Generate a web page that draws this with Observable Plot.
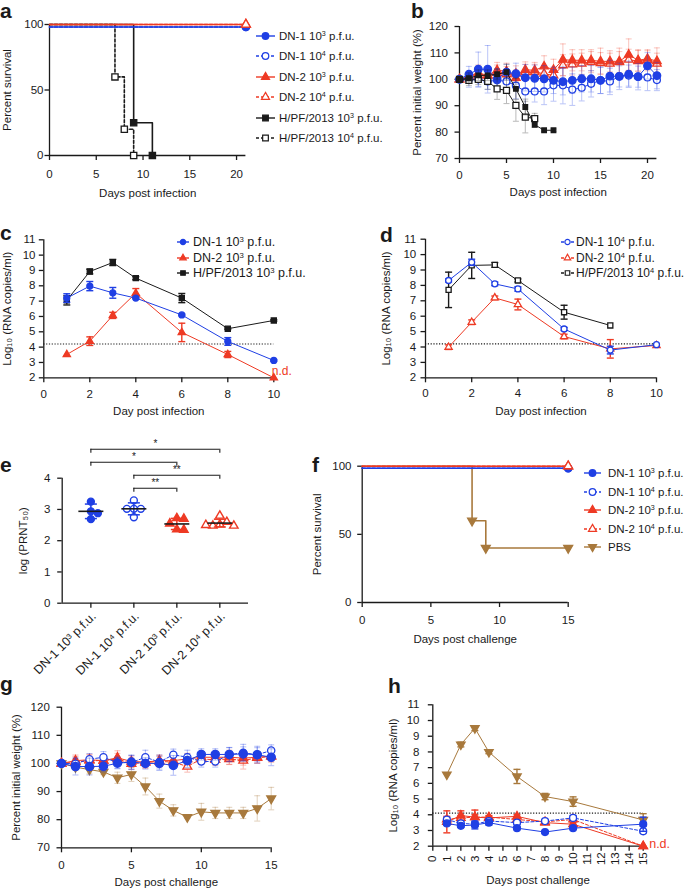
<!DOCTYPE html>
<html>
<head>
<meta charset="utf-8">
<script src="https://cdn.jsdelivr.net/npm/d3@7"></script>
<script src="https://cdn.jsdelivr.net/npm/@observablehq/plot@0.6"></script>
<style>
html,body{margin:0;padding:0;background:#fff;overflow:hidden;}
#root{position:relative;width:685px;height:890px;overflow:hidden;font-family:"Liberation Sans",Arial,Helvetica,sans-serif;color:#1a1a1a;}
#root > svg{position:absolute;left:0;top:0;}
.letter{position:absolute;font-weight:bold;font-size:21px;line-height:21px;}
.lrow{position:absolute;height:16px;line-height:16px;display:flex;align-items:center;white-space:nowrap;}
.lrow svg{flex:none;overflow:visible;}
sup{font-size:0.62em;line-height:0;vertical-align:0.55em;}
</style>
</head>
<body><div id="root"></div>
<script>
// ================= DATA =================
// ---- a: survival after infection ----
const aDaysDN = [0, 21];
const aSurvDN1_3 = [100, 100];
const aSurvDN1_4 = [100, 100];
const aSurvDN2_3 = [100, 100];
const aSurvDN2_4 = [100, 100];
const aDaysH_3 = [0, 9, 11];
const aSurvH_3 = [100, 25, 0];
const aDaysH_4 = [0, 7, 8, 9];
const aSurvH_4 = [100, 60, 20, 0];
const aLegend = ["DN-1 10^3 p.f.u.", "DN-1 10^4 p.f.u.", "DN-2 10^3 p.f.u.", "DN-2 10^4 p.f.u.", "H/PF/2013 10^3 p.f.u.", "H/PF/2013 10^4 p.f.u."];
const aTicksX = [0, 5, 10, 15, 20];
const aTicksY = [0, 50, 100];

// ---- b: weight after infection ----
const bDays = [0,1,2,3,4,5,6,7,8,9,10,11,12,13,14,15,16,17,18,19,20,21];
const bDN1_3 = [100,101.9,103.8,103.8,100.1,102.7,102.1,100.6,100.4,100.2,99.6,99.1,99.6,100.2,100.2,99.6,101.2,101.1,101.9,101,105.1,101.4];
const bDN1_3sd = [0,3,6.5,9,4,3,4,5,5,5,5,5,5,5,5,5,6,5,5,5,5,5];
const bDN1_4 = [100,100,100,99.2,99.6,99.2,97.6,95.4,95.4,95.4,97.7,97.7,96.1,96.8,98.3,99.6,99.2,101.1,101.4,101,100.7,99.7];
const bDN1_4sd = [0,3,3,3,4,4,5,5,4,5,6,7,6,5,5,5,5,4,4,4,5,4];
const bDN2_3 = [100,101.1,102.4,101.5,103.4,103.1,100.5,103.6,103.4,104.9,103.6,107.4,107.2,107.2,107.2,106.8,106.8,106.8,109.3,107.2,107.8,106.9];
const bDN2_3sd = [0,2,3,3,3,3,3,3,3,4,4,6,4,4,4,5,4,5,6,4,3,5];
const bDN2_4 = [100,100.9,101.5,101.5,102.4,101.9,102.1,102.7,102.7,102.1,101.5,105.3,105.6,105.9,106.5,106.1,105.9,106.5,107.4,106.9,107.2,105.9];
const bDN2_4sd = [0,2,2,3,3,3,3,3,3,3,3,4,4,4,4,4,4,4,4,4,4,4];
const bDaysH_3 = [0,1,2,3,4,5,6,7,8,9,10];
const bH_3 = [100,100.4,101.5,101.5,101.9,102.7,96.4,89.5,82.8,80.7,80.7];
const bH_3sd = [0,2,2,2,2,3,4,3,1,0.5,0.5];
const bDaysH_4 = [0,1,2,3,4,5,6,7,8];
const bH_4 = [100,99.6,100,99.2,96.4,95.8,90.1,85.7,85.1];
const bH_4sd = [0,2,2,3,4,5,6,6,2];
const bTicksY = [70, 80, 90, 100, 110, 120];

// ---- c / d: viremia after infection ----
const cdDays = [1, 2, 3, 4, 6, 8, 10];
const cdTicksX = [0, 2, 4, 6, 8, 10];
const logTicksY = [2, 3, 4, 5, 6, 7, 8, 9, 10, 11];
const LOD_cd = 4.2;
const cDN1_3 = [7.2, 7.98, 7.54, 7.2, 6.1, 4.37, 3.13];
const cDN1_3sd = [0.28, 0.3, 0.35, 0.05, 0.05, 0.25, 0.05];
const cDN2_3 = [3.52, 4.39, 6.07, 7.52, 4.96, 3.52, 2.0];
const cDN2_3sd = [0, 0.28, 0.2, 0.3, 0.6, 0.2, 0];
const cH_3 = [7.05, 8.93, 9.52, 8.5, 7.2, 5.2, 5.74];
const cH_3sd = [0.3, 0.15, 0.2, 0.1, 0.3, 0.05, 0.05];
const cLegend = ["DN-1 10^3 p.f.u.", "DN-2 10^3 p.f.u.", "H/PF/2013 10^3 p.f.u."];
const dDN1_4 = [8.32, 9.5, 8.1, 7.77, 5.17, 3.8, 4.15];
const dDN1_4sd = [0.1, 0.2, 0.12, 0.15, 0.1, 0.25, 0];
const dDN2_4 = [3.99, 5.61, 7.19, 6.76, 4.68, 3.88, 4.1];
const dDN2_4sd = [0.15, 0.15, 0.12, 0.35, 0.15, 0.6, 0];
const dDaysH_4 = [1, 2, 3, 4, 6, 8];
const dH_4 = [7.71, 9.3, 9.33, 8.32, 6.26, 5.4];
const dH_4sd = [1.15, 0.85, 0.15, 0.1, 0.45, 0];
const dLegend = ["DN-1 10^4 p.f.u.", "DN-2 10^4 p.f.u.", "H/PF/2013 10^4 p.f.u."];

// ---- e: neutralizing titres ----
const eGroups = ["DN-1 10^3 p.f.u.", "DN-1 10^4 p.f.u.", "DN-2 10^3 p.f.u.", "DN-2 10^4 p.f.u."];
const eDN1_3 = [3.25, 2.94, 2.88, 2.69];
const eDN1_4 = [3.29, 3.02, 3.02, 3.02, 2.75];
const eDN2_3 = [2.72, 2.7, 2.55, 2.36, 2.35];
const eDN2_4 = [2.8, 2.6, 2.52, 2.48, 2.48, 2.5];
const eCompFrom = [0, 0, 1, 1];
const eCompTo = [3, 2, 3, 2];
const eCompLabel = ["*", "*", "**", "**"];
const eTicksY = [0, 1, 2, 3, 4];

// ---- f: survival after challenge ----
const fDaysDN = [0, 15];
const fSurvDN1_3 = [100, 100];
const fSurvDN1_4 = [100, 100];
const fSurvDN2_3 = [100, 100];
const fSurvDN2_4 = [100, 100];
const fDaysPBS = [0, 8, 9, 15];
const fSurvPBS = [100, 60, 40, 40];
const fLegend = ["DN-1 10^3 p.f.u.", "DN-1 10^4 p.f.u.", "DN-2 10^3 p.f.u.", "DN-2 10^4 p.f.u.", "PBS"];
const fgTicksX = [0, 5, 10, 15];

// ---- g: weight after challenge ----
const gDays = [0,1,2,3,4,5,6,7,8,9,10,11,12,13,14,15];
const gPBS = [100,98.7,97.8,97,94.9,96.1,91.8,86.6,83.3,80.9,82.8,82.4,82.4,82.4,84,87.5];
const gPBSsd = [0,1,1.5,1,2,2.5,3,2.5,2,0.5,3,2,2,2,4.5,4];
const gDN1_3 = [100,98.9,98.9,99,100.1,100.5,100,100,99.3,101,103.2,103.2,103.2,103.4,103.1,102.2];
const gDN1_3sd = [0,3,3,2,2,2.5,2,2.5,3.5,2.5,2,2,2.5,2.5,2.5,3];
const gDN1_4 = [100,99.9,101.5,102.2,100.3,100.3,102.2,100.5,103.1,102.2,100.7,100.7,103.1,103.8,103.1,104.6];
const gDN1_4sd = [0,2,2,2,2,2.5,2.5,2.5,2,2.5,2,2,2.5,3,3,2];
const gDN2_3 = [100,101,101.3,101,102,100.7,100.5,101,101,101.6,102.2,102.2,102.2,101.9,102.2,102.6];
const gDN2_3sd = [0,2,2,2,2.5,2,2,2,2,2,2,2,2.5,2.5,2,2];
const gDN2_4 = [100,100.5,101,101,101.6,99.9,100.3,100.7,100.5,98.9,101.6,101.3,101.6,101,102,102.5];
const gDN2_4sd = [0,2,2,2,2,2,2,2,2,2,2,2,2,3,2,2];

// ---- h: viremia after challenge ----
const hDays = [1, 2, 3, 4, 6, 8, 10, 15];
const hTicksX = [0,1,2,3,4,5,6,7,8,9,10,11,12,13,14,15];
const LOD_h = 4.1;
const hPBS = [6.56, 8.47, 9.51, 7.99, 6.44, 5.16, 4.84, 3.67];
const hPBSsd = [0, 0.15, 0.15, 0.1, 0.45, 0.2, 0.3, 0.4];
const hDN1_3 = [3.45, 3.3, 3.35, 3.5, 3.15, 2.9, 3.15, 3.4];
const hDN1_3sd = [0.12, 0.1, 0.25, 0.15, 0.08, 0.05, 0.05, 0.45];
const hDN1_4 = [3.7, 3.45, 3.4, 3.6, 3.5, 3.6, 3.8, 2.95];
const hDN1_4sd = [0.1, 0.15, 0.15, 0.1, 0.1, 0.1, 0.15, 0.1];
const hDN2_3 = [3.55, 3.95, 3.85, 3.8, 3.9, 3.5, 3.4, 2.0];
const hDN2_3sd = [0.7, 0.3, 0.45, 0.1, 0.1, 0.1, 0.1, 0];
const hDN2_4 = [3.7, 3.8, 3.85, 3.85, 3.7, 3.55, 3.7, 2.0];
const hDN2_4sd = [0.2, 0.15, 0.15, 0.1, 0.1, 0.1, 0.1, 0];

// ================= STYLE =================
const W = 685, H = 890;
const FONT = '"Liberation Sans", Arial, Helvetica, sans-serif';
const BLUE = "#1f3fe4", RED = "#ee3a24", BROWN = "#a8793c", INK = "#1a1a1a";
const AXW = 1.3;
const FS = 11.5;
const root = document.getElementById("root");

const capSym = {draw(c, s) { const w = Math.sqrt(s / Math.PI); c.moveTo(-w, 0); c.lineTo(w, 0); }};
const triDown = {draw(c, s) {
  const y = Math.sqrt(s / (Math.sqrt(3) * 3));
  c.moveTo(0, 2 * y); c.lineTo(Math.sqrt(3) * y, -y); c.lineTo(-Math.sqrt(3) * y, -y); c.closePath();
}};
const S = {
  DN1_3: {color: BLUE, symbol: "circle", fill: BLUE, r: 3.3},
  DN1_4: {color: BLUE, symbol: "circle", fill: "white", dash: "3,2", r: 3.3},
  DN2_3: {color: RED, symbol: "triangle", fill: RED, r: 3},
  DN2_4: {color: RED, symbol: "triangle", fill: "white", dash: "3,2", r: 3},
  H_3: {color: INK, symbol: "square", fill: INK, r: 3.2},
  H_4: {color: INK, symbol: "square", fill: "white", dash: "3,2", r: 3.2},
  PBS: {color: BROWN, symbol: triDown, fill: BROWN, r: 3}
};
const sup = s => s.replace(/\^(\d)/g, "<sup>$1</sup>");
const uni = s => s.replace(/\^3/g, "\u00B3").replace(/\^4/g, "\u2074");
const intFmt = d => String(d);

// ================= HELPERS =================
function series(xs, ys, es, st, o = {}) {
  const data = xs.map((x, i) => ({x, y: ys[i], e: es ? es[i] : 0}));
  const eb = data.filter(d => d.e > 0);
  const eo = o.errOpacity ?? 1, ew = o.errWidth ?? 1, cap = o.cap ?? 3.5;
  const r = st.r * (o.rScale ?? 1);
  const err = {stroke: st.color, strokeOpacity: eo, strokeWidth: ew, fill: "none"};
  return [
    Plot.ruleX(eb, {x: "x", y1: d => d.y - d.e, y2: d => d.y + d.e, ...err}),
    Plot.dot(eb, {x: "x", y: d => d.y + d.e, symbol: capSym, r: cap, ...err}),
    Plot.dot(eb, {x: "x", y: d => d.y - d.e, symbol: capSym, r: cap, ...err}),
    Plot.line(data, {x: "x", y: "y", stroke: st.color, strokeWidth: o.lw ?? 1, strokeDasharray: (o.dashed && st.dash) ? st.dash : undefined}),
    Plot.dot(data, {x: "x", y: "y", symbol: st.symbol, r, fill: st.fill, stroke: st.color, strokeWidth: 1.3})
  ];
}
function surv(xs, ys, st, dy = 0) {
  const data = xs.map((x, i) => ({x, y: ys[i]}));
  return [
    Plot.line(data, {x: "x", y: "y", curve: "step-after", stroke: st.color, strokeWidth: 1.6, strokeDasharray: st.dash, dy}),
    Plot.dot(data.slice(1), {x: "x", y: "y", symbol: st.symbol, r: st.r * 1.1, fill: st.fill, stroke: st.color, strokeWidth: 1.3, dy})
  ];
}
function axes(o) {
  const m = [
    Plot.ruleX([o.xd[0]], {stroke: INK, strokeWidth: AXW}),
    Plot.ruleY([o.yd[0]], {stroke: INK, strokeWidth: AXW}),
    Plot.axisY({ticks: o.yt, tickSize: 4.5, tickPadding: o.yp, label: o.yl ?? null, labelAnchor: "center",
      labelOffset: o.ylo, labelArrow: "none", stroke: INK, strokeWidth: AXW, fill: INK, fontSize: FS, tickFormat: intFmt})
  ];
  m.push(Plot.axisX({ticks: o.xt, tickSize: 5, tickPadding: o.xp ?? 8, label: o.xl ?? null, labelAnchor: "center",
    labelOffset: o.xlo, labelArrow: "none", stroke: INK, strokeWidth: AXW, fill: INK, fontSize: FS,
    tickFormat: o.noXLabels ? () => "" : intFmt}));
  return m;
}
function draw(o, marks) {
  const svg = Plot.plot({
    width: W, height: H,
    marginLeft: o.xr[0], marginRight: W - o.xr[1], marginTop: o.yr[1], marginBottom: H - o.yr[0],
    x: {type: "linear", domain: o.xd}, y: {type: "linear", domain: o.yd},
    style: {background: "transparent", fontFamily: FONT, fontSize: FS + "px", color: INK},
    marks: [...axes(o), ...marks]
  });
  root.appendChild(svg);
}
const symType = s => typeof s === "string" ? ({circle: d3.symbolCircle, triangle: d3.symbolTriangle, square: d3.symbolSquare})[s] : s;
function legendSymbol(st, sw, gap, rs) {
  const NS = "http://www.w3.org/2000/svg";
  const svg = document.createElementNS(NS, "svg");
  svg.setAttribute("width", sw + gap); svg.setAttribute("height", 16);
  const ln = document.createElementNS(NS, "line");
  ln.setAttribute("x1", 0); ln.setAttribute("x2", sw); ln.setAttribute("y1", 8); ln.setAttribute("y2", 8);
  ln.setAttribute("stroke", st.color); ln.setAttribute("stroke-width", 1.4);
  if (st.dash) ln.setAttribute("stroke-dasharray", "3,2");
  const p = document.createElementNS(NS, "path");
  const r = st.r * rs;
  p.setAttribute("d", d3.symbol(symType(st.symbol), r * r * Math.PI)());
  p.setAttribute("transform", `translate(${sw / 2},8)`);
  p.setAttribute("fill", st.fill); p.setAttribute("stroke", st.color); p.setAttribute("stroke-width", 1.2);
  svg.append(ln, p);
  return svg;
}
function legend(keys, names, o) {
  keys.forEach((k, i) => {
    const row = document.createElement("div");
    row.className = "lrow";
    row.style.left = o.left + "px";
    row.style.top = (o.top + i * o.step - 8) + "px";
    row.style.fontSize = o.fs + "px";
    row.appendChild(legendSymbol(S[k], o.sw, o.gap, o.rs ?? 1));
    const span = document.createElement("span");
    span.innerHTML = sup(names[i]);
    row.appendChild(span);
    root.appendChild(row);
  });
}
function letter(t, left, top) {
  const d = document.createElement("div");
  d.className = "letter"; d.textContent = t;
  d.style.left = left + "px"; d.style.top = top + "px";
  root.appendChild(d);
}
function swarm(vals, pxY, diam) {
  const placed = [];
  return vals.map(v => {
    const py = v * pxY;
    for (let k = 0; k < 10; k++) {
      for (const c of (k === 0 ? [0] : [k, -k])) {
        const px = c * diam;
        if (placed.every(p => Math.hypot(p.px - px, p.py - py) >= diam * 0.95)) { placed.push({px, py}); return px; }
      }
    }
    return 0;
  });
}

// ================= PANEL a =================
draw({xd: [0, 21], xr: [49, 245.4], yd: [0, 100], yr: [155, 24], xt: aTicksX, yt: aTicksY, xp: 9, yp: 1.5,
      xl: "Days post infection", xlo: 41, yl: "Percent survival", ylo: 47}, [
  ...surv(aDaysH_4, aSurvH_4, S.H_4),
  ...surv(aDaysH_3, aSurvH_3, S.H_3),
  ...surv(aDaysDN, aSurvDN1_4, S.DN1_4, 2.5),
  ...surv(aDaysDN, aSurvDN1_3, S.DN1_3, 2.5),
  ...surv(aDaysDN, aSurvDN2_3, S.DN2_3),
  ...surv(aDaysDN, aSurvDN2_4, S.DN2_4)
]);
legend(["DN1_3", "DN1_4", "DN2_3", "DN2_4", "H_3", "H_4"], aLegend, {left: 256, top: 36, step: 20.4, fs: 11.5, sw: 19, gap: 4});

// ================= PANEL b =================
const bo = {errOpacity: 0.3, cap: 3, rScale: 1.05};
draw({xd: [0, 21], xr: [459, 656.4], yd: [70, 120], yr: [158, 26], xt: aTicksX, yt: bTicksY, xp: 7, yp: 7,
      xl: "Days post infection", xlo: 37, yl: "Percent initial weight (%)", ylo: 46.5}, [
  ...series(bDays, bDN2_4, bDN2_4sd, S.DN2_4, bo),
  ...series(bDays, bDN2_3, bDN2_3sd, S.DN2_3, bo),
  ...series(bDays, bDN1_4, bDN1_4sd, S.DN1_4, bo),
  ...series(bDays, bDN1_3, bDN1_3sd, S.DN1_3, {...bo, rScale: 1.15}),
  ...series(bDaysH_4, bH_4, bH_4sd, S.H_4, {...bo, rScale: 1.05}),
  ...series(bDaysH_3, bH_3, bH_3sd, S.H_3, {...bo, rScale: 0.8})
]);

// ================= PANEL c =================
const co = {errWidth: 1.4, cap: 3.5, rScale: 0.9};
draw({xd: [0, 10], xr: [43.3, 273.3], yd: [2, 11], yr: [377.3, 239.3], xt: cdTicksX, yt: logTicksY, xp: 7, yp: 3.8,
      xl: "Day post infection", xlo: 37, yl: "Log\u2081\u2080 (RNA copies/ml)", ylo: 41}, [
  Plot.ruleY([LOD_cd], {stroke: INK, strokeWidth: 1.1, strokeDasharray: "1.2,1.6"}),
  ...series(cdDays, cH_3, cH_3sd, S.H_3, co),
  ...series(cdDays, cDN2_3, cDN2_3sd, S.DN2_3, co),
  ...series(cdDays, cDN1_3, cDN1_3sd, S.DN1_3, co),
  Plot.text([{x: cdDays[6], y: cDN2_3[6]}], {x: "x", y: "y", text: () => "n.d.", fill: RED, fontSize: 12, textAnchor: "start", dx: -2, dy: -7})
]);
legend(["DN1_3", "DN2_3", "H_3"], cLegend, {left: 177, top: 242, step: 15.5, fs: 12.5, sw: 12, gap: 4, rs: 0.8});

// ================= PANEL d =================
draw({xd: [0, 10], xr: [425, 656], yd: [2, 11], yr: [377.3, 238.7], xt: cdTicksX, yt: logTicksY, xp: 6, yp: 4.8,
      xl: "Day post infection", xlo: 37, yl: "Log\u2081\u2080 (RNA copies/ml)", ylo: 44}, [
  Plot.ruleY([LOD_cd], {stroke: INK, strokeWidth: 1.1, strokeDasharray: "1.2,1.6"}),
  ...series(dDaysH_4, dH_4, dH_4sd, S.H_4, co),
  ...series(cdDays, dDN2_4, dDN2_4sd, S.DN2_4, co),
  ...series(cdDays, dDN1_4, dDN1_4sd, S.DN1_4, co)
]);
legend(["DN1_4", "DN2_4", "H_4"], dLegend, {left: 561, top: 242, step: 15.5, fs: 12, sw: 13, gap: 2, rs: 0.8});

// ================= PANEL e =================
const eSets = [eDN1_3, eDN1_4, eDN2_3, eDN2_4];
const eKeys = ["DN1_3", "DN1_4", "DN2_3", "DN2_4"];
const eXd = [-0.667, 3.667], eXr = [61.7, 248], eYr = [602.7, 477.7];
const ePxY = (eYr[0] - eYr[1]) / 4, ePxX = (eXr[1] - eXr[0]) / (eXd[1] - eXd[0]);
const eMarks = [];
eSets.forEach((vals, g) => {
  const st = S[eKeys[g]];
  const offs = swarm(vals, ePxY, 7);
  const pts = vals.map((v, i) => ({x: g + offs[i] / ePxX, y: v}));
  const stat = [{x: g, m: d3.mean(vals), sd: d3.deviation(vals)}];
  eMarks.push(
    Plot.dot(pts, {x: "x", y: "y", symbol: st.symbol, r: st.r * 1.05, fill: st.fill, stroke: st.color, strokeWidth: 1.4}),
    Plot.ruleX(stat, {x: "x", y1: d => d.m - d.sd, y2: d => d.m + d.sd, stroke: st.color, strokeWidth: 1.5}),
    Plot.dot(stat, {x: "x", y: d => d.m + d.sd, symbol: capSym, r: 6, stroke: st.color, strokeWidth: 1.5, fill: "none"}),
    Plot.dot(stat, {x: "x", y: d => d.m - d.sd, symbol: capSym, r: 6, stroke: st.color, strokeWidth: 1.5, fill: "none"}),
    Plot.dot(stat, {x: "x", y: "m", symbol: capSym, r: 12.5, stroke: INK, strokeWidth: 1.6, fill: "none"})
  );
});
const eBr = eCompFrom.map((a, i) => ({a, b: eCompTo[i], label: eCompLabel[i], y: 4.925 - i * 0.415}));
const eBrEnds = eBr.flatMap(d => [{x: d.a, y: d.y}, {x: d.b, y: d.y}]);
draw({xd: eXd, xr: eXr, yd: [0, 4], yr: eYr, xt: [0, 1, 2, 3], noXLabels: true, yt: eTicksY, yp: 7.2,
      yl: "log (PRNT\u2085\u2080)", ylo: 43}, [
  ...eMarks,
  Plot.ruleY(eBr, {x1: "a", x2: "b", y: "y", stroke: INK, strokeWidth: 1.1}),
  Plot.ruleX(eBrEnds, {x: "x", y1: "y", y2: d => d.y - 0.13, stroke: INK, strokeWidth: 1.1}),
  Plot.text(eBr, {x: d => (d.a + d.b) / 2, y: "y", text: "label", dy: -5, fontSize: 10, fill: INK}),
  Plot.text(eGroups, {x: (d, i) => i, text: d => uni(d), frameAnchor: "bottom", rotate: -45, textAnchor: "end",
    lineAnchor: "middle", dx: 3, dy: 11, fontSize: 12.5, fill: INK})
]);

// ================= PANEL f =================
draw({xd: [0, 15], xr: [361.7, 567.7], yd: [0, 100], yr: [602, 465.7], xt: fgTicksX, yt: aTicksY, xp: 8.7, yp: 6.2,
      xl: "Days post challenge", xlo: 40, yl: "Percent survival", ylo: 49}, [
  ...surv(fDaysPBS, fSurvPBS, S.PBS),
  ...surv(fDaysDN, fSurvDN1_4, S.DN1_4, 2),
  ...surv(fDaysDN, fSurvDN1_3, S.DN1_3, 2),
  ...surv(fDaysDN, fSurvDN2_3, S.DN2_3),
  ...surv(fDaysDN, fSurvDN2_4, S.DN2_4)
]);
legend(["DN1_3", "DN1_4", "DN2_3", "DN2_4", "PBS"], fLegend, {left: 584, top: 473, step: 18.6, fs: 11.5, sw: 17, gap: 7});

// ================= PANEL g =================
const go = {errOpacity: 0.35, cap: 3, dashed: true, rScale: 1.1};
draw({xd: [0, 15], xr: [61, 270.7], yd: [70, 120], yr: [847.3, 706.7], xt: fgTicksX, yt: bTicksY, xp: 8.4, yp: 7.2,
      xl: "Days post challenge", xlo: 38.5, yl: "Percent initial weight (%)", ylo: 50}, [
  ...series(gDays, gPBS, gPBSsd, S.PBS, go),
  ...series(gDays, gDN2_4, gDN2_4sd, S.DN2_4, go),
  ...series(gDays, gDN2_3, gDN2_3sd, S.DN2_3, go),
  ...series(gDays, gDN1_4, gDN1_4sd, S.DN1_4, go),
  ...series(gDays, gDN1_3, gDN1_3sd, S.DN1_3, {...go, rScale: 1.25})
]);

// ================= PANEL h =================
const ho = {errWidth: 1.4, cap: 3.5, dashed: true, rScale: 1.05};
draw({xd: [0, 15], xr: [432.3, 642.7], yd: [2, 11], yr: [845.7, 704.3], xt: hTicksX, noXLabels: true, yt: logTicksY, yp: 8.8,
      xl: "Days post challenge", xlo: 38, yl: "Log\u2081\u2080 (RNA copies/ml)", ylo: 44}, [
  Plot.ruleY([LOD_h], {stroke: INK, strokeWidth: 1.2, strokeDasharray: "1.2,1.6"}),
  ...series(hDays, hPBS, hPBSsd, S.PBS, ho),
  ...series(hDays, hDN2_4, hDN2_4sd, S.DN2_4, ho),
  ...series(hDays, hDN2_3, hDN2_3sd, S.DN2_3, ho),
  ...series(hDays, hDN1_4, hDN1_4sd, S.DN1_4, ho),
  ...series(hDays, hDN1_3, hDN1_3sd, S.DN1_3, ho),
  Plot.text(hTicksX, {x: d => d, text: d => String(d), frameAnchor: "bottom", rotate: -90, textAnchor: "middle",
    lineAnchor: "middle", dy: 12.5, fontSize: FS, fill: INK}),
  Plot.text([{x: hDays[7], y: hDN2_3[7]}], {x: "x", y: "y", text: () => "n.d.", fill: RED, fontSize: 12.5, textAnchor: "start", dx: 6, dy: -2})
]);

// ================= PANEL LETTERS =================
letter("a", 0, 0); letter("b", 411, 0);
letter("c", 0, 222.2); letter("d", 380, 224.2);
letter("e", 0, 454.2); letter("f", 312, 454);
letter("g", 0, 672.8); letter("h", 388, 675.2);
</script>
</body>
</html>
